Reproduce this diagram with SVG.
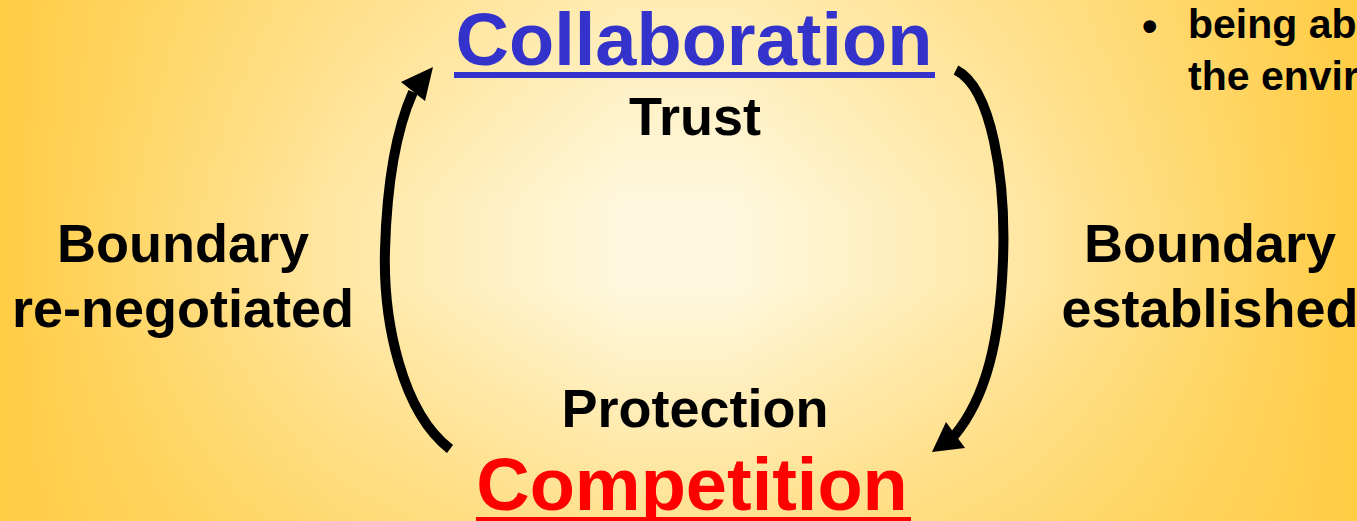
<svg xmlns="http://www.w3.org/2000/svg" width="1357" height="521" viewBox="0 0 1357 521">
  <defs>
    <linearGradient id="gh" x1="0" y1="0" x2="1" y2="0">
      <stop offset="0" stop-color="#FFCC44" stop-opacity="1"/>
      <stop offset="0.25" stop-color="#FFCC44" stop-opacity="0.38"/>
      <stop offset="0.46" stop-color="#FFCC44" stop-opacity="0"/>
      <stop offset="0.54" stop-color="#FFCC44" stop-opacity="0"/>
      <stop offset="0.75" stop-color="#FFCC44" stop-opacity="0.38"/>
      <stop offset="1" stop-color="#FFCC44" stop-opacity="1"/>
    </linearGradient>
    <linearGradient id="gv" x1="0" y1="0" x2="0" y2="1">
      <stop offset="0" stop-color="#FFCC44" stop-opacity="0.28"/>
      <stop offset="0.4" stop-color="#FFCC44" stop-opacity="0"/>
      <stop offset="0.55" stop-color="#FFCC44" stop-opacity="0"/>
      <stop offset="1" stop-color="#FFCC44" stop-opacity="0.5"/>
    </linearGradient>
    <style>
      .t { font-family: "Liberation Sans", Arial, sans-serif; font-weight: bold; }
      .big { font-size: 74px; }
      .mid { font-size: 54px; fill: #000; }
      .small { font-size: 41px; fill: #000; }
      .arc { fill: none; stroke: #000; stroke-width: 10; stroke-linecap: butt; }
      .head { fill: #000; }
    </style>
  </defs>
  <rect x="0" y="0" width="1357" height="521" fill="#FFF8DF"/>
  <rect x="0" y="0" width="1357" height="521" fill="url(#gh)"/>
  <rect x="0" y="0" width="1357" height="521" fill="url(#gv)"/>

  <g id="collaboration">
    <text class="t big" x="694" y="65" text-anchor="middle" fill="#3333CC">Collaboration</text>
    <rect x="454" y="72" width="481" height="6" fill="#3333CC"/>
    <text class="t mid" x="695" y="135" text-anchor="middle">Trust</text>
  </g>

  <g id="competition">
    <text class="t mid" x="695" y="427" text-anchor="middle">Protection</text>
    <text class="t big" x="692" y="510" text-anchor="middle" fill="#FF0000">Competition</text>
    <rect x="476" y="517" width="435" height="6" fill="#FF0000"/>
  </g>

  <g id="left-label">
    <text class="t mid" x="183" y="262" text-anchor="middle">Boundary</text>
    <text class="t mid" x="183" y="327" text-anchor="middle">re-negotiated</text>
  </g>

  <g id="right-label">
    <text class="t mid" x="1210" y="262" text-anchor="middle">Boundary</text>
    <text class="t mid" x="1210" y="327" text-anchor="middle">established</text>
  </g>

  <g id="bullet">
    <text class="t" x="1142" y="41" style="font-size:44px">•</text>
    <text class="t small" x="1188" y="38">being ab</text>
    <text class="t small" x="1188" y="90">the envir</text>
  </g>

  <g id="connectors">
    <path class="arc" d="M450,449 C402,412 383,322 385,250 C387,180 396,130 413,92"/>
    <polygon class="head" points="433,67 401,82 425,101"/>
    <path class="arc" d="M956,70 C992,88 1006,180 1003,260 C1000,340 986,398 954,436"/>
    <polygon class="head" points="932,452 946,422 965,448"/>
  </g>
</svg>
